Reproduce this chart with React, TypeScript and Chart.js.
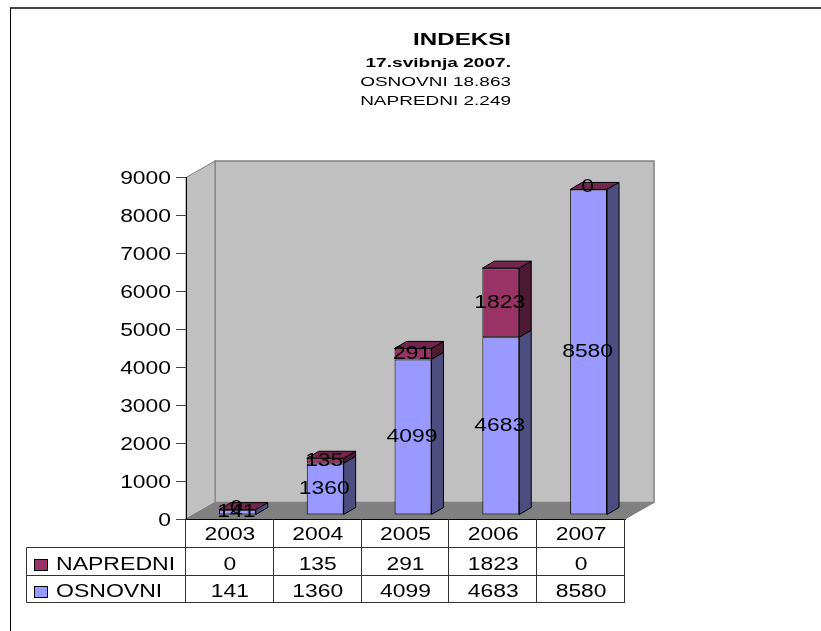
import React, { useEffect, useRef } from "react";
import { Chart, registerables } from "chart.js";

Chart.register(...registerables);

const categories = ["2003", "2004", "2005", "2006", "2007"];
const osnovni = [141, 1360, 4099, 4683, 8580];
const napredni = [0, 135, 291, 1823, 0];
const titleLines = [
  { text: "INDEKSI", font: "bold 17px 'Liberation Sans'", y: 44.5, sx: 1.42 },
  { text: "17.svibnja 2007.", font: "bold 13px 'Liberation Sans'", y: 66.5, sx: 1.47 },
  { text: "OSNOVNI 18.863", font: "13px 'Liberation Sans'", y: 85.5, sx: 1.46 },
  { text: "NAPREDNI 2.249", font: "13px 'Liberation Sans'", y: 105, sx: 1.46 },
];
const FONT = "18px 'Liberation Sans'";
const STRETCH = 1.27;
const L = 186, R = 625, T = 177.5, B = 519;
const DX = 29, DY = 16.5;
const BX = 7.5, BY = 4;
const SX = 12, SY = 7;
const COLORS: any = {
  OSNOVNI: { front: "#9999ff", side: "#4d4d80", top: "#73739f" },
  NAPREDNI: { front: "#993366", side: "#4d1a33", top: "#73264d" },
};

function poly(ctx: any, pts: number[][], fill: string, stroke: string, lw = 1) {
  ctx.beginPath();
  pts.forEach((p, i) => (i ? ctx.lineTo(p[0], p[1]) : ctx.moveTo(p[0], p[1])));
  ctx.closePath();
  if (fill) { ctx.fillStyle = fill; ctx.fill(); }
  if (stroke) { ctx.strokeStyle = stroke; ctx.lineWidth = lw; ctx.stroke(); }
}

function wide(c: any, text: string, x: number, y: number, align: string, sx = STRETCH) {
  c.save();
  c.textAlign = align;
  c.translate(x, y);
  c.scale(sx, 1);
  c.fillText(text, 0, 0);
  c.restore();
}

const scene: any = {
  id: "scene",
  beforeDraw(chart: any) {
    const c = chart.ctx;
    const { left: l, right: r, top: t, bottom: b } = chart.chartArea;
    c.save();
    c.fillStyle = "#fff";
    c.fillRect(0, 0, 821, 631);
    c.fillStyle = "#444";
    c.fillRect(10, 7, 811, 2);
    c.fillStyle = "#000";
    c.fillRect(10, 8, 1, 623);
    poly(c, [[l + DX, t - DY], [r + DX, t - DY], [r + DX, b - DY], [l + DX, b - DY]], "#c0c0c0", "#808080", 1.5);
    poly(c, [[l, t], [l + DX, t - DY], [l + DX, b - DY], [l, b]], "#c0c0c0", "#808080", 1);
    poly(c, [[l, b], [l + DX, b - DY], [r + DX, b - DY], [r, b]], "#808080", "#808080", 1);
    c.restore();
  },
  beforeDatasetDraw(chart: any, args: any) {
    const c = chart.ctx;
    const meta = args.meta;
    const label = chart.data.datasets[args.index].label;
    const col = COLORS[label];
    c.save();
    c.translate(BX, -BY);
    meta.data.forEach((el: any) => {
      const p = el.getProps(["x", "y", "base", "width"], true);
      const x2 = p.x + p.width / 2, x1 = p.x - p.width / 2;
      if (p.base - p.y > 0) {
        poly(c, [[x2, p.y], [x2 + SX, p.y - SY], [x2 + SX, p.base - SY], [x2, p.base]], col.side, "#000");
      }
      if (label === "NAPREDNI") {
        poly(c, [[x1, p.y], [x1 + SX, p.y - SY], [x2 + SX, p.y - SY], [x2, p.y]], col.top, "#000");
      }
    });
  },
  afterDatasetDraw(chart: any) {
    chart.ctx.restore();
  },
  afterDatasetsDraw(chart: any) {
    const c = chart.ctx;
    c.save();
    c.font = FONT;
    c.fillStyle = "#000";
    c.textBaseline = "middle";
    chart.data.datasets.forEach((ds: any, i: number) => {
      chart.getDatasetMeta(i).data.forEach((el: any, j: number) => {
        const p = el.getProps(["x", "y", "base"], true);
        const lift = ds.data[j] === 0 ? 2 : 0;
        wide(c, String(ds.data[j]), p.x + BX - 1, (p.y + p.base) / 2 - BY - lift, "center");
      });
    });
    c.restore();
  },
  afterDraw(chart: any) {
    const c = chart.ctx;
    const { left: l, right: r, bottom: b } = chart.chartArea;
    const cw = (r - l) / categories.length;
    c.save();
    c.strokeStyle = "#333";
    c.lineWidth = 1;
    const rows = [547.5, 575.5, 602.5];
    const line = (a: number, d: number, e: number, f: number) => {
      c.beginPath(); c.moveTo(a, d); c.lineTo(e, f); c.stroke();
    };
    rows.forEach((y) => line(26.5, y, r, y));
    line(26.5, rows[0], 26.5, rows[2]);
    for (let i = 0; i <= categories.length; i++) {
      const x = Math.round(l + i * cw) - 0.5;
      line(x, b, x, rows[2]);
    }
    c.font = FONT;
    c.fillStyle = "#000";
    c.textBaseline = "alphabetic";
    chart.scales.y.ticks.forEach((t: any) => {
      wide(c, String(t.value), 171, chart.scales.y.getPixelForValue(t.value) + 6.5, "right");
    });
    categories.forEach((cat, i) => wide(c, cat, l + (i + 0.5) * cw, 540, "center"));
    const tableRows = [
      { name: "NAPREDNI", values: napredni, y: 570 },
      { name: "OSNOVNI", values: osnovni, y: 597 },
    ];
    tableRows.forEach((row) => {
      row.values.forEach((v, i) => wide(c, String(v), l + (i + 0.5) * cw, row.y, "center"));
      wide(c, row.name, 56, row.y, "left", 1.28);
      c.fillStyle = COLORS[row.name].front;
      c.fillRect(34, row.y - 11, 14, 11);
      c.strokeStyle = "#000";
      c.strokeRect(34.5, row.y - 10.5, 13, 11);
      c.fillStyle = "#000";
    });
    titleLines.forEach((t) => {
      c.font = t.font;
      wide(c, t.text, 511, t.y, "right", t.sx);
    });
    c.restore();
  },
};

export default function App() {
  const ref = useRef<HTMLCanvasElement>(null);
  useEffect(() => {
    const chart = new Chart(ref.current as HTMLCanvasElement, {
      type: "bar",
      data: {
        labels: categories,
        datasets: [
          { label: "OSNOVNI", data: osnovni, backgroundColor: COLORS.OSNOVNI.front, borderColor: "#000", borderWidth: 1, borderSkipped: false, barPercentage: 0.84, categoryPercentage: 0.5 },
          { label: "NAPREDNI", data: napredni, backgroundColor: COLORS.NAPREDNI.front, borderColor: "#000", borderWidth: 1, borderSkipped: false, barPercentage: 0.84, categoryPercentage: 0.5 },
        ],
      },
      options: {
        responsive: false,
        animation: false,
        layout: { padding: { top: T, right: 821 - R, left: 0, bottom: 0 } },
        plugins: { legend: { display: false }, title: { display: false }, tooltip: { enabled: false } },
        scales: {
          x: {
            stacked: true,
            afterFit: (s: any) => { s.height = 631 - B; },
            grid: { display: false },
            border: { color: "#000", width: 1 },
            ticks: { display: false },
          },
          y: {
            stacked: true,
            min: 0,
            max: 9000,
            afterFit: (s: any) => { s.width = L; },
            grid: { drawOnChartArea: false, drawTicks: true, tickLength: 10, color: "#444" },
            border: { color: "#000", width: 1 },
            ticks: { stepSize: 1000, display: false },
          },
        },
      },
      plugins: [scene],
    } as any);
    return () => chart.destroy();
  }, []);
  return (
    <canvas
      ref={ref}
      width={821}
      height={631}
      style={{ position: "fixed", left: 0, top: 0, width: 821, height: 631, display: "block" }}
    />
  );
}
